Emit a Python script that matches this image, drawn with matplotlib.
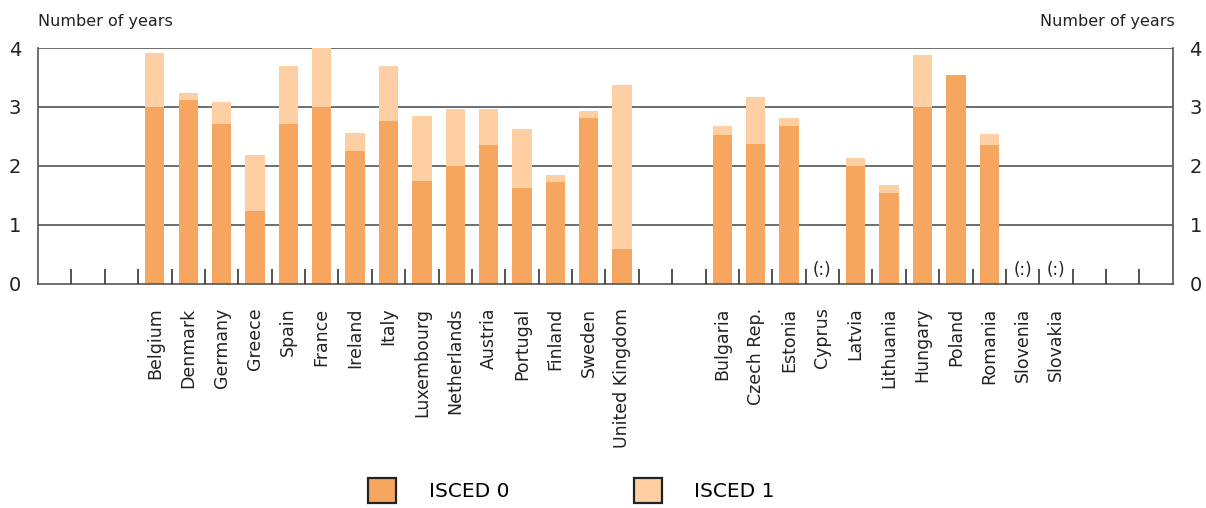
import numpy as np
import matplotlib.pyplot as plt
from matplotlib.patches import Patch

plt.rcParams['font.family'] = ['DejaVu Sans']

# Data (number of years)
group1 = ["Belgium", "Denmark", "Germany", "Greece", "Spain", "France", "Ireland",
          "Italy", "Luxembourg", "Netherlands", "Austria", "Portugal", "Finland",
          "Sweden", "United Kingdom"]
group2 = ["Bulgaria", "Czech Rep.", "Estonia", "Cyprus", "Latvia", "Lithuania",
          "Hungary", "Poland", "Romania", "Slovenia", "Slovakia"]

nan = np.nan
isced0 = [3.0, 3.12, 2.71, 1.23, 2.71, 3.0, 2.26, 2.76, 1.75, 2.0, 2.36, 1.62, 1.73,
          2.81, 0.59,
          2.53, 2.37, 2.67, nan, 2.0, 1.55, 3.0, 3.55, 2.36, nan, nan]
isced1 = [0.92, 0.12, 0.38, 0.96, 0.98, 1.0, 0.30, 0.93, 1.10, 0.97, 0.61, 1.01, 0.12,
          0.12, 2.78,
          0.14, 0.80, 0.15, nan, 0.14, 0.12, 0.88, 0.0, 0.19, nan, nan]

c0 = "#F7A660"
c1 = "#FDCFA3"
grid_c = "#555555"
txt_c = "#222222"

# slot layout: 3 empty slots, group 1, 2 empty, group 2, 3 empty
lead, gap, trail = 3, 2, 3
pos1 = np.arange(len(group1)) + lead
pos2 = np.arange(len(group2)) + lead + len(group1) + gap
pos = np.concatenate([pos1, pos2])
names = group1 + group2
nslots = pos[-1] + 1 + trail

v0 = np.array(isced0)
v1 = np.array(isced1)

fig = plt.figure(figsize=(12.06, 5.08), dpi=100)
ax = fig.add_axes([0.0315, 0.441, 0.941, 0.4645])

ax.set_xlim(-0.5, nslots - 0.5)
ax.set_ylim(0, 4)

for y in [1, 2, 3, 4]:
    ax.axhline(y, color=grid_c, lw=1.2, zorder=1)

ok = ~np.isnan(v0)
w = 0.58
ax.bar(pos[ok], v0[ok], width=w, color=c0, zorder=2)
ax.bar(pos[ok], v1[ok], bottom=v0[ok], width=w, color=c1, zorder=2)

for p, v in zip(pos, v0):
    if np.isnan(v):
        ax.text(p, 0.24, "(:)", ha="center", va="center", fontsize=12, color=txt_c)

# small separators between slots
ax.vlines(np.arange(nslots - 1) + 0.5, 0, 0.26, color=txt_c, lw=1.1, zorder=3)

ax.spines["top"].set_visible(False)
for s in ["left", "right", "bottom"]:
    ax.spines[s].set_color(grid_c)
    ax.spines[s].set_linewidth(1.2)

ax.set_xticks(pos)
ax.set_xticklabels(names, rotation=90, fontsize=12.5, color=txt_c)
ax.tick_params(axis="x", length=0, pad=17)

ax.set_yticks([0, 1, 2, 3, 4])
ax.tick_params(axis="y", length=0, labelsize=14, labelcolor=txt_c,
               left=False, right=False, labelleft=True, labelright=True, pad=12)

fig.text(0.0315, 0.957, "Number of years", fontsize=11.5, color=txt_c, va="center")
fig.text(0.9745, 0.957, "Number of years", fontsize=11.5, color=txt_c,
         va="center", ha="right")

handles = [Patch(facecolor=c0, edgecolor=txt_c, lw=1.6, label="ISCED 0"),
           Patch(facecolor=c1, edgecolor=txt_c, lw=1.6, label="ISCED 1")]
fig.legend(handles=handles, loc="upper center", bbox_to_anchor=(0.474, 0.06),
           ncol=2, frameon=False, fontsize=14.5, handlelength=1.4, handleheight=1.6,
           handletextpad=1.6, columnspacing=6.2, borderpad=0, borderaxespad=0)

fig.savefig("out.png", dpi=100)
